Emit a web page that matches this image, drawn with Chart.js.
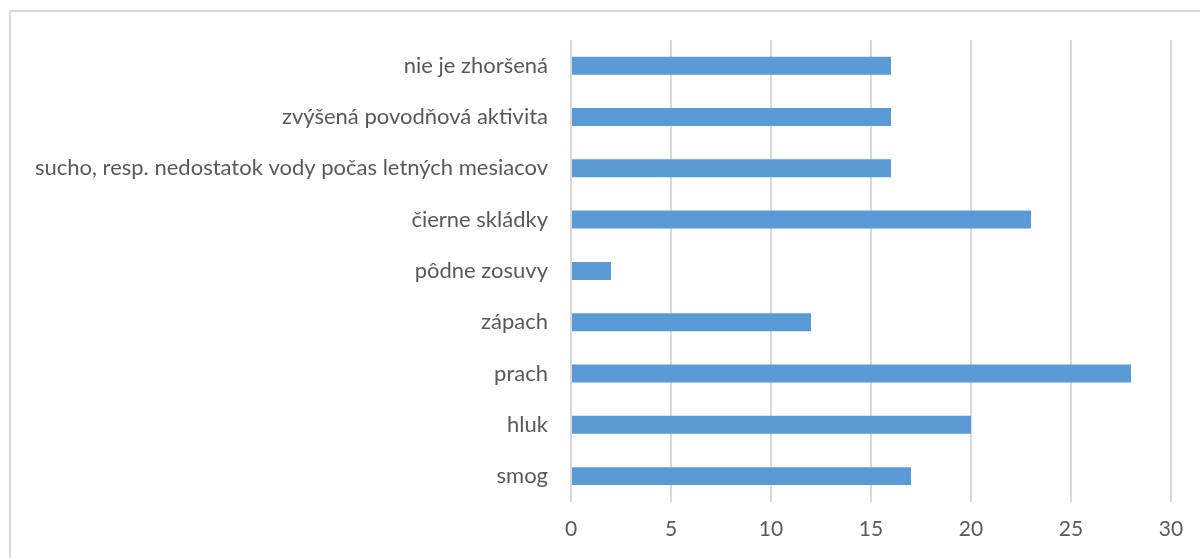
<!DOCTYPE html>
<html lang="sk">
<head>
    <meta charset="UTF-8">
    <title>Graf</title>
    <script src="https://cdn.jsdelivr.net/npm/chart.js@4.4.1/dist/chart.umd.min.js"></script>
    <style>
        body { margin: 0; background: #fff; overflow: hidden; }
        #ram {
            position: absolute; left: 9px; top: 10px;
            width: 1400px; height: 800px;
            border: 2px solid #d9d9d9;
        }
        #obal { position: absolute; left: 0; top: 0; width: 1200px; height: 558px; }
    </style>
</head>
<body>
    <div id="ram"></div>
    <div id="obal"><canvas id="graf"></canvas></div>

    <script>
        // kategórie zhora nadol
        const kategorie = [
            "nie je zhoršená",
            "zvýšená povodňová aktivita",
            "sucho, resp. nedostatok vody počas letných mesiacov",
            "čierne skládky",
            "pôdne zosuvy",
            "zápach",
            "prach",
            "hluk",
            "smog"
        ];
        const hodnoty = [16, 16, 16, 23, 2, 12, 28, 20, 17];
        const osX = { min: 0, max: 30, krok: 5 };

        const pismo = "Lato, 'Liberation Sans', sans-serif";

        new Chart(document.getElementById("graf"), {
            type: "bar",
            data: {
                labels: kategorie,
                datasets: [{
                    data: hodnoty,
                    backgroundColor: "#5b9bd5",
                    barPercentage: 0.35,
                    categoryPercentage: 1
                }]
            },
            options: {
                indexAxis: "y",
                responsive: true,
                maintainAspectRatio: false,
                animation: false,
                layout: { padding: { top: 40, right: 29, bottom: 1, left: 0 } },
                plugins: { legend: { display: false }, tooltip: { enabled: false } },
                scales: {
                    x: {
                        min: osX.min,
                        max: osX.max,
                        ticks: { stepSize: osX.krok, padding: 15, color: "#595959", font: { family: pismo, size: 21 } },
                        grid: { color: "#d9d9d9", lineWidth: 2, drawTicks: false },
                        border: { display: false }
                    },
                    y: {
                        ticks: { padding: 15, color: "#595959", font: { family: pismo, size: 22 } },
                        grid: { display: false },
                        border: { display: false },
                        afterFit: (sc) => { sc.width = 571; }
                    }
                }
            }
        });
    </script>
</body>
</html>
